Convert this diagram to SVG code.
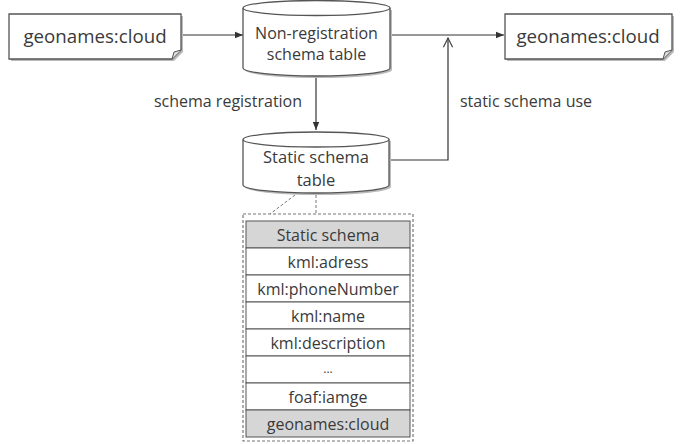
<svg xmlns="http://www.w3.org/2000/svg" width="683" height="444" viewBox="0 0 683 444">
<defs>
<style>
.t{font-family:"Open Sans","Noto Sans",sans-serif;fill:#3a3a3a;text-anchor:middle}
.shape{fill:#fff;stroke:#555;stroke-width:1.3}
.shadow{fill:#bbb;stroke:none}
.ln{fill:none;stroke:#333;stroke-width:1.2}
.row{fill:#fff;stroke:#555;stroke-width:1}
.hd{fill:#d6d6d6;stroke:#555;stroke-width:1}
</style>
<marker id="ah" viewBox="0 0 10 10" refX="10" refY="5" markerWidth="7" markerHeight="7" orient="auto">
<path d="M0,1 L10,5 L0,9 Z" fill="#333"/>
</marker>
<marker id="ao" viewBox="0 0 12 12" refX="11" refY="6" markerWidth="11" markerHeight="11" orient="auto" markerUnits="userSpaceOnUse">
<path d="M1,1 L11,6 L1,11" fill="none" stroke="#444" stroke-width="1.3"/>
</marker>
</defs>

<g id="connectors">
<line class="ln" x1="182" y1="35" x2="243" y2="35" marker-end="url(#ah)"/>
<line class="ln" x1="390" y1="35" x2="504" y2="35" marker-end="url(#ah)"/>
<line class="ln" x1="316" y1="77" x2="316" y2="130" marker-end="url(#ah)"/>
<polyline class="ln" points="389,160 448,160 448,38" marker-end="url(#ao)"/>
<text class="t" x="228" y="106.5" font-size="16">schema registration</text>
<text class="t" x="526" y="106.5" font-size="16">static schema use</text>
<polyline points="295,195 270,214" fill="none" stroke="#777" stroke-width="1" stroke-dasharray="3,2"/>
<polyline points="316,195 316,214" fill="none" stroke="#777" stroke-width="1" stroke-dasharray="3,2"/>
</g>

<g id="doc-left">
<path class="shadow" d="M11,16 H183 V52 L174,61 H11 Z"/>
<path class="shape" d="M9,14 H181 V50 L172,59 H9 Z"/>
<path d="M172,59 L174,52 L181,50" fill="#ddd" stroke="#555" stroke-width="1"/>
<text class="t" x="95" y="42.5" font-size="18.7">geonames:cloud</text>
</g>

<g id="doc-right">
<path class="shadow" d="M507,16 H674 V52 L665,61 H507 Z"/>
<path class="shape" d="M505,14 H672 V50 L663,59 H505 Z"/>
<path d="M663,59 L665,52 L672,50" fill="#ddd" stroke="#555" stroke-width="1"/>
<text class="t" x="588" y="42.5" font-size="18.7">geonames:cloud</text>
</g>

<g id="cyl-nonreg">
<path class="shadow" d="M245,10 V70 A73.5,8 0 0 0 392,70 V10 Z"/>
<path class="shape" d="M243,8 V68 A73.5,8 0 0 0 390,68 V8"/>
<ellipse class="shape" cx="316.5" cy="8" rx="73.5" ry="7.5"/>
<text class="t" x="316.5" y="38.5" font-size="16">Non-registration</text>
<text class="t" x="316.5" y="60" font-size="16">schema table</text>
</g>

<g id="cyl-static">
<path class="shadow" d="M245,141 V187 A73,8 0 0 0 391,187 V141 Z"/>
<path class="shape" d="M243,139.5 V185 A73,8 0 0 0 389,185 V139.5"/>
<ellipse class="shape" cx="316" cy="139.5" rx="73" ry="7.5"/>
<text class="t" x="316" y="163" font-size="16.5">Static schema</text>
<text class="t" x="316" y="186" font-size="16.5">table</text>
</g>

<g id="schema-table">
<rect x="243" y="214" width="170" height="227" fill="#fff" stroke="#777" stroke-width="1.2" stroke-dasharray="3,2"/>
<rect class="hd" x="246" y="221" width="164" height="27"/>
<rect class="row" x="246" y="248" width="164" height="27"/>
<rect class="row" x="246" y="275" width="164" height="27"/>
<rect class="row" x="246" y="302" width="164" height="27"/>
<rect class="row" x="246" y="329" width="164" height="27"/>
<rect class="row" x="246" y="356" width="164" height="27"/>
<rect class="row" x="246" y="383" width="164" height="27"/>
<rect class="hd" x="246" y="410" width="164" height="27"/>
<text class="t" x="328" y="240.5" font-size="16">Static schema</text>
<text class="t" x="328" y="267.5" font-size="16">kml:adress</text>
<text class="t" x="328" y="294.5" font-size="16">kml:phoneNumber</text>
<text class="t" x="328" y="321.5" font-size="16">kml:name</text>
<text class="t" x="328" y="348.5" font-size="16">kml:description</text>
<text class="t" x="328" y="373" font-size="12">...</text>
<text class="t" x="328" y="402.5" font-size="16">foaf:iamge</text>
<text class="t" x="328" y="429.5" font-size="16">geonames:cloud</text>
</g>
</svg>
